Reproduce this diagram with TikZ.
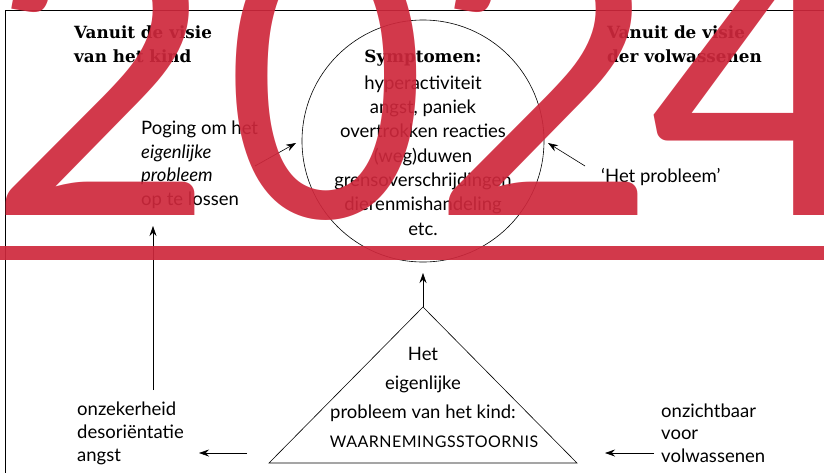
\documentclass[tikz,border=0pt]{standalone}
\usepackage{fontspec}
\setmainfont{Lato}
\newfontfamily\headfont{DejaVu Serif}
\newfontfamily\yearfont{Lato}
\usetikzlibrary{arrows.meta}
\definecolor{stamp}{RGB}{206,40,60}

\tikzset{
  txt/.style={anchor=base west, inner sep=0pt, align=left,
    font=\fontsize{18.5}{23.4}\selectfont},
  ctxt/.style={anchor=base, inner sep=0pt, align=center,
    font=\fontsize{18.5}{24.3}\selectfont},
  head/.style={anchor=base west, inner sep=0pt, align=left,
    font=\headfont\bfseries\fontsize{16.8}{24}\selectfont},
  digit/.style={anchor=base, inner sep=0pt, text=stamp, text opacity=0.92,
    font=\yearfont\fontsize{395}{395}\selectfont},
  conn/.style={-{Stealth[length=10pt,width=7pt]}, line width=0.6pt}
}

\begin{document}
\begin{tikzpicture}[x=1pt, y=-1pt]
\useasboundingbox (0,0) rectangle (824,472);
\clip (0,0) rectangle (824,472);

% frame
\draw[line width=0.8pt] (5,480) -- (5,10) -- (830,10);

% headings (base = last line)
\node[head] (kind) at (74,62) {Vanuit de visie\\van het kind};
\node[head] (volw) at (607,62) {Vanuit de visie\\der volwassenen};

% symptoms circle
\node[draw, circle, minimum size=242pt, inner sep=0pt, line width=0.6pt] (symp) at (423,141) {};
\node[ctxt, font=\headfont\bfseries\fontsize{16.8}{24}\selectfont] (symptitle) at (423,62) {Symptomen:};
\node[ctxt] (symplist) at (423,235) {hyperactiviteit\\angst, paniek\\overtrokken reacties\\(weg)duwen\\grensoverschrijdingen\\dierenmishandeling\\etc.};

% side texts
\node[txt] (poging) at (141,205) {Poging om het\\\textit{eigenlijke}\\\textit{probleem}\\op te lossen};
\node[txt] (hetprob) at (601,182) {‘Het probleem’};
\node[txt, font=\fontsize{18.5}{23}\selectfont] (onzeker) at (77,461) {onzekerheid\\desoriëntatie\\angst};
\node[txt, font=\fontsize{18.5}{22.5}\selectfont] (onzicht) at (661,462) {onzichtbaar\\voor\\volwassenen};

% triangle
\coordinate (apex) at (423,307);
\coordinate (tl) at (269,463);
\coordinate (tr) at (577,463);
\draw[line width=0.6pt] (apex) -- (tl) -- (tr) -- cycle;
\node[ctxt, font=\fontsize{18.5}{29}\selectfont] (kern) at (423,418)
  {Het\\eigenlijke\\probleem van het kind:};
\node[ctxt, font=\fontsize{16}{29}\selectfont\addfontfeature{LetterSpace=3}] (kerncaps) at (434,447) {WAARNEMINGSSTOORNIS};

% arrows
\coordinate (a1s) at (255,166);
\coordinate (a1e) at (296,143);
\coordinate (a2s) at (585,166);
\coordinate (a2e) at (548,143);
\coordinate (a3s) at (153,390);
\coordinate (a3e) at (153,226);
\coordinate (a4s) at (247,453);
\coordinate (a4e) at (199,453);
\coordinate (a5s) at (654,453);
\coordinate (a5e) at (605,453);
\coordinate (a6e) at (423,273);
\draw[conn] (a1s) -- (a1e);
\draw[conn] (a2s) -- (a2e);
\draw[conn] (a3s) -- (a3e);
\draw[conn] (a4s) -- (a4e);
\draw[conn] (a5s) -- (a5e);
\draw[conn] (apex) -- (a6e);

% red overlay
\fill[stamp, opacity=0.92] (0,246) rectangle (824,260);
\node[digit] (d1) at (102,215) {2};
\node[digit, xscale=0.88] (d2) at (326,217) {0};
\node[digit] (d3) at (545,215) {2};
\node[digit] (d4) at (764,215) {4};
\end{tikzpicture}
\end{document}
